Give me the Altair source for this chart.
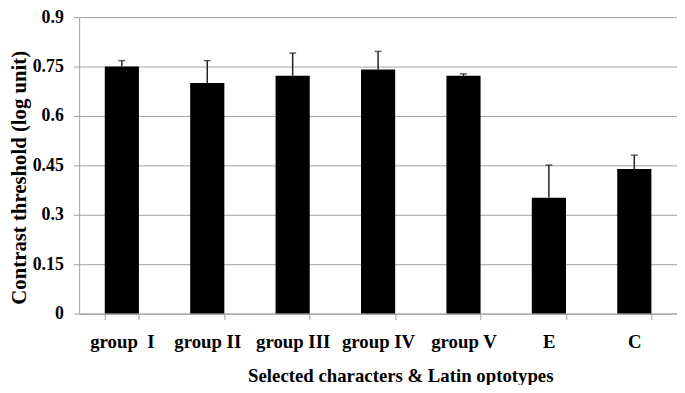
import altair as alt
import pandas as pd

categories = ["group\u00a0 I", "group II", "group III", "group IV", "group V", "E", "C"]
means = [0.750, 0.700, 0.722, 0.741, 0.722, 0.352, 0.439]
errors = [0.018, 0.068, 0.069, 0.055, 0.006, 0.099, 0.042]
y_ticks = [0, 0.15, 0.3, 0.45, 0.6, 0.75, 0.9]

df = pd.DataFrame({"cat": categories, "mean": means, "err": errors})
df["upper"] = df["mean"] + df["err"]

FONT = "Liberation Serif"
GRAY = "#a0a0a0"

x = alt.X(
    "cat:N",
    sort=categories,
    scale=alt.Scale(paddingInner=0.6, paddingOuter=0.3),
    axis=alt.Axis(
        title="Selected characters & Latin optotypes",
        labelAngle=0,
        labelFontSize=19,
        labelPadding=13,
        tickBand="extent", tickSize=6, tickColor=GRAY, domainColor=GRAY,
        titleFontSize=19,
        titleX=325, titleY=63, titleBaseline="middle",
        grid=False,
    ),
)
y = alt.Y(
    "mean:Q",
    scale=alt.Scale(domain=[0, 0.9], nice=False),
    axis=alt.Axis(
        title="Contrast threshold (log unit)",
        values=y_ticks, labelExpr="'' + datum.value",
        labelFontSize=18,
        labelPadding=10,
        tickSize=6, tickColor=GRAY, domainColor=GRAY,
        gridColor=GRAY, gridWidth=1,
        titleFontSize=21,
        titleX=-60, titleY=162, titleBaseline="middle",
    ),
)

bars = alt.Chart(df).mark_bar(color="black").encode(x=x, y=y)
rules = alt.Chart(df).mark_rule(color="#222222", strokeWidth=1.5).encode(
    x=alt.X("cat:N", sort=categories), y=alt.Y("mean:Q"), y2="upper:Q"
)
caps = alt.Chart(df).mark_tick(color="#222222", thickness=1.5, size=7).encode(
    x=alt.X("cat:N", sort=categories), y=alt.Y("upper:Q")
)

chart = (
    alt.layer(bars, rules, caps)
    .properties(
        width=605, height=300,
        autosize=alt.AutoSizeParams(type="none"),
        padding={"left": 72, "top": 7, "right": 0, "bottom": 70},
    )
    .configure_view(stroke=None)
    .configure_axis(
        labelFont=FONT, labelFontWeight="bold", labelColor="black",
        titleFont=FONT, titleFontWeight="bold", titleColor="black",
    )
)

chart.save("out.html", embed_options={"renderer": "svg", "actions": False})
